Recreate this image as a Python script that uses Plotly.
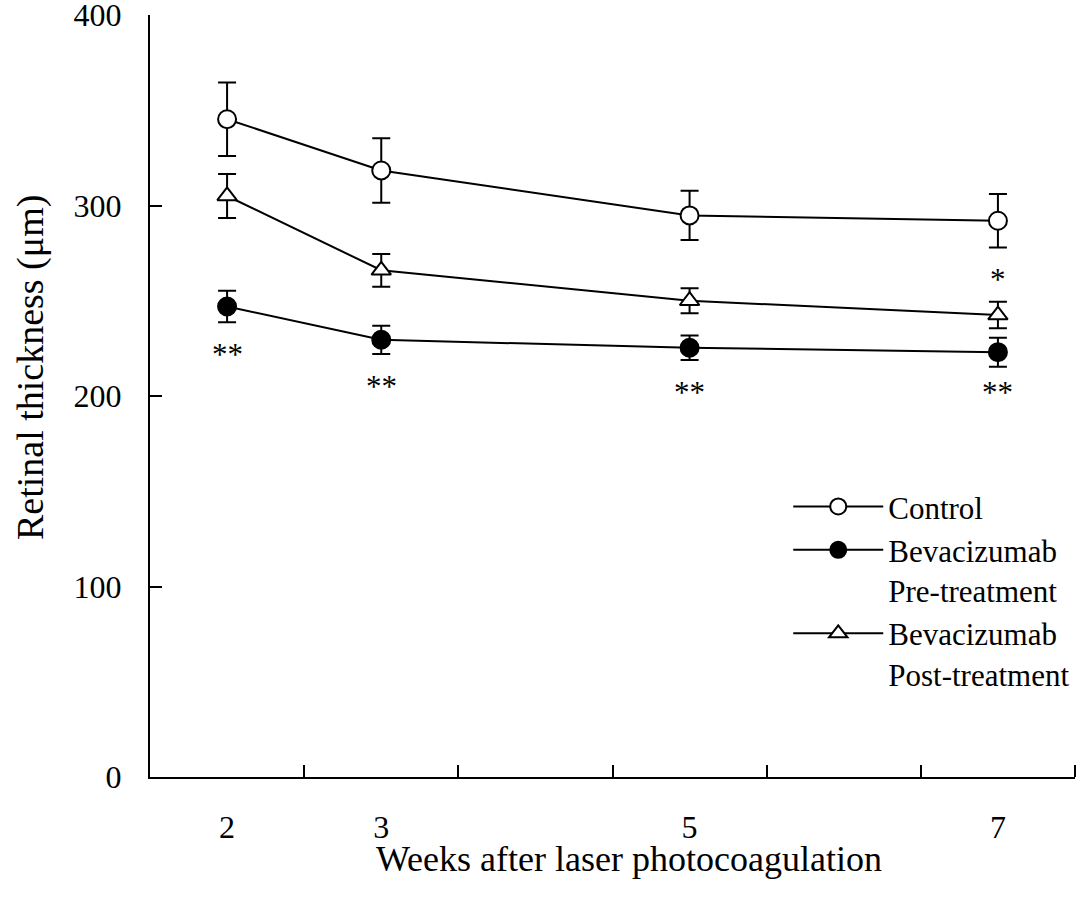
import plotly.graph_objects as go

weeks = [2, 3, 5, 7]
control = [345.3, 318.4, 294.8, 292.0]
control_err = [19.3, 16.9, 12.9, 14.0]
pre = [247.0, 229.5, 225.3, 223.0]
pre_err = [8.3, 7.4, 6.4, 7.6]
post = [305.0, 266.0, 250.0, 242.5]
post_err = [11.5, 8.6, 6.6, 7.0]

# significance marks
sig_x = [2, 3, 5, 7, 7]
sig_y = [222, 205, 202, 202, 261]
sig_text = ["**", "**", "**", "**", "*"]

x_ticks = [2, 3, 5, 7]
x_minor = [2.5, 3.5, 4.5, 5.5, 6.5, 7.5]
y_ticks = [0, 100, 200, 300, 400]

FONT = "Liberation Serif"

fig = go.Figure()

def add(name, y, err, symbol, fill):
    fig.add_trace(go.Scatter(
        x=weeks, y=y, name=name, mode="lines+markers",
        line=dict(color="black", width=2),
        marker=dict(symbol=symbol, size=18 if symbol == "circle" else 17,
                    color=fill, line=dict(color="black", width=2)),
        error_y=dict(type="data", array=err, visible=True,
                     color="black", thickness=2, width=9),
    ))

add("Control", control, control_err, "circle", "white")
add("Bevacizumab<br>Pre-treatment", pre, pre_err, "circle", "black")
add("Bevacizumab<br>Post-treatment", post, post_err, "triangle-up", "white")

for xx, yy, tt in zip(sig_x, sig_y, sig_text):
    fig.add_annotation(x=xx, y=yy, text=tt, showarrow=False,
                       font=dict(family=FONT, size=31, color="black"),
                       xanchor="center", yanchor="middle")

# axis titles
fig.add_annotation(xref="paper", yref="paper", x=0.518, y=-0.108,
                   text="Weeks after laser photocoagulation", showarrow=False,
                   font=dict(family=FONT, size=36, color="black"),
                   xanchor="center", yanchor="middle")
fig.add_annotation(xref="paper", yref="paper", x=-0.1297, y=0.5367,
                   text="Retinal thickness (μm)", showarrow=False, textangle=-90,
                   font=dict(family=FONT, size=38, color="black"),
                   xanchor="center", yanchor="middle")

fig.update_layout(
    width=1078, height=900,
    margin=dict(l=150, r=3, t=15, b=123, autoexpand=False),
    paper_bgcolor="white", plot_bgcolor="white",
    font=dict(family=FONT, size=32, color="black"),
    showlegend=True,
    legend=dict(x=0.69, y=0.39, xanchor="left", yanchor="top",
                bgcolor="rgba(0,0,0,0)", font=dict(family=FONT, size=31),
                itemwidth=90, valign="top", tracegroupgap=0),
    xaxis=dict(range=[1.5, 7.5], tickmode="array", tickvals=x_ticks,
               ticktext=[str(v) for v in x_ticks], ticks="",
               ticklabelstandoff=21,
               showline=True, linecolor="black", linewidth=2,
               showgrid=False, zeroline=False,
               minor=dict(tickmode="array", tickvals=x_minor, ticks="inside",
                          ticklen=12, tickwidth=2, tickcolor="black", showgrid=False)),
    yaxis=dict(range=[0, 400], tickmode="array", tickvals=y_ticks,
               ticks="inside", ticklen=12, tickwidth=2, tickcolor="black",
               ticklabelstandoff=20, ticklabeloverflow="allow",
               showline=True, linecolor="black", linewidth=2,
               showgrid=False, zeroline=False),
)

fig.write_html("out.html")
